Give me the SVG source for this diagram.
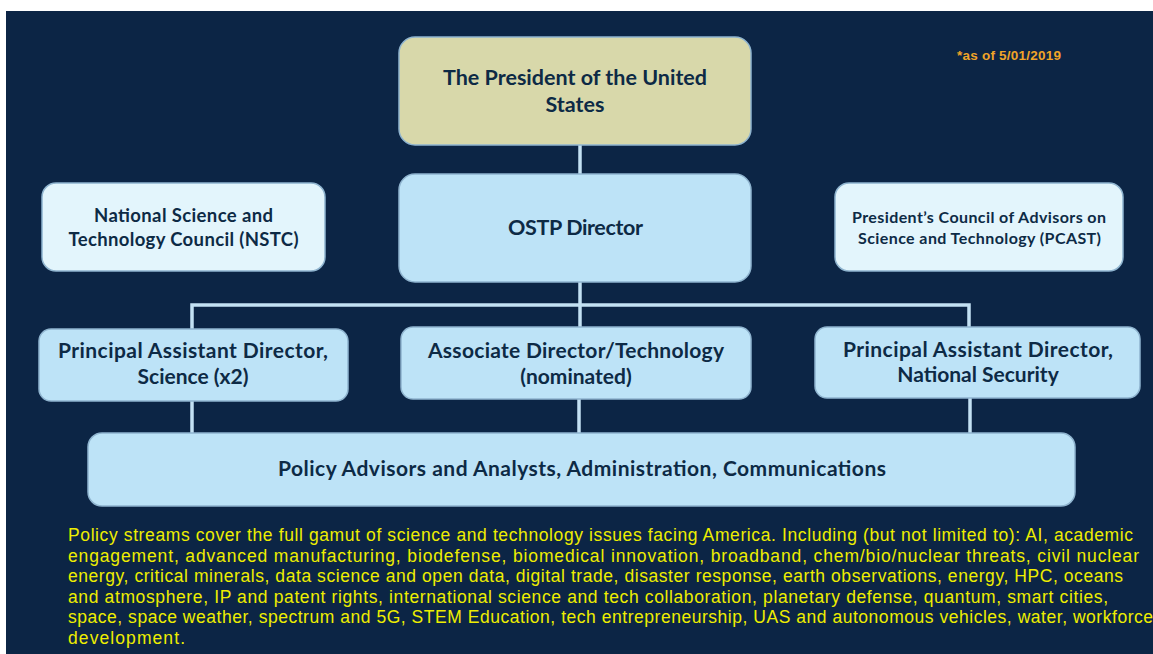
<svg xmlns="http://www.w3.org/2000/svg" width="1153" height="654" viewBox="0 0 1153 654">
<defs>
<style>
.box{stroke:#8fb4cf;stroke-width:1.5}
.pres{fill:#d8d8aa}
.dir{fill:#bde3f7}
.adv{fill:#e3f5fc}
.t{font-family:Lato,"Liberation Sans",sans-serif;font-weight:bold;fill:#0d2a45;text-anchor:middle}
.conn{stroke:#c3e1f3;stroke-width:3.5;fill:none}
.para{font-family:"Liberation Sans",Arial,sans-serif;font-size:17.5px;fill:#eeee00}
.note{font-family:"Liberation Sans Narrow","Liberation Sans",Arial,sans-serif;font-size:13.5px;font-weight:bold;fill:#f0a428}
</style>
</defs>
<rect x="0" y="0" width="1153" height="654" fill="#ffffff"/>
<rect x="6" y="11" width="1147" height="643" fill="#0c2545"/>

<g id="connectors">
<line class="conn" x1="580" y1="145" x2="580" y2="174"/>
<line class="conn" x1="580" y1="282" x2="580" y2="327"/>
<polyline class="conn" points="192,329 192,305 969,305 969,327"/>
<line class="conn" x1="192" y1="400" x2="192" y2="433"/>
<line class="conn" x1="579" y1="399" x2="579" y2="433"/>
<line class="conn" x1="970" y1="398" x2="970" y2="433"/>
</g>

<g id="president">
<rect class="box pres" x="399" y="37" width="352" height="108" rx="16"/>
<text class="t" x="575" y="85" font-size="21.5" textLength="264">The President of the United</text>
<text class="t" x="575" y="112" font-size="21.5">States</text>
</g>

<g id="ostp-director">
<rect class="box dir" x="399" y="174" width="352" height="108" rx="16"/>
<text class="t" x="575.5" y="235" font-size="21.5" textLength="135">OSTP Director</text>
</g>

<g id="nstc">
<rect class="box adv" x="42" y="183" width="283" height="88" rx="14"/>
<text class="t" x="183.5" y="222" font-size="18.5" textLength="179">National Science and</text>
<text class="t" x="183.5" y="246" font-size="18.5" textLength="230">Technology Council (NSTC)</text>
</g>

<g id="pcast">
<rect class="box adv" x="835" y="183" width="288" height="88" rx="14"/>
<text class="t" x="979" y="223" font-size="16" textLength="254">President’s Council of Advisors on</text>
<text class="t" x="979.5" y="244" font-size="16" textLength="243">Science and Technology (PCAST)</text>
</g>

<g id="pad-science">
<rect class="box dir" x="39" y="329" width="309" height="72" rx="12"/>
<text class="t" x="193" y="358" font-size="21" textLength="270">Principal Assistant Director,</text>
<text class="t" x="193" y="384" font-size="21">Science (x2)</text>
</g>

<g id="associate-director">
<rect class="box dir" x="401" y="327" width="350" height="72" rx="12"/>
<text class="t" x="576" y="358" font-size="21" textLength="296">Associate Director/Technology</text>
<text class="t" x="576" y="384" font-size="21">(nominated)</text>
</g>

<g id="pad-national-security">
<rect class="box dir" x="815" y="327" width="325" height="71" rx="12"/>
<text class="t" x="978" y="357" font-size="21" textLength="270">Principal Assistant Director,</text>
<text class="t" x="978" y="382" font-size="21">National Security</text>
</g>

<g id="policy-advisors">
<rect class="box dir" x="88" y="433" width="987" height="73" rx="14"/>
<text class="t" x="582" y="476" font-size="21" textLength="608">Policy Advisors and Analysts, Administration, Communications</text>
</g>

<text class="note" x="957" y="60" textLength="104">*as of 5/01/2019</text>

<g id="policy-streams">
<text class="para" x="68" y="541" textLength="1065">Policy streams cover the full gamut of science and technology issues facing America. Including (but not limited to): AI, academic</text>
<text class="para" x="68" y="561.5" textLength="1071">engagement, advanced manufacturing, biodefense, biomedical innovation, broadband, chem/bio/nuclear threats, civil nuclear</text>
<text class="para" x="68" y="582" textLength="1055">energy, critical minerals, data science and open data, digital trade, disaster response, earth observations, energy, HPC, oceans</text>
<text class="para" x="68" y="602.5" textLength="1040">and atmosphere, IP and patent rights, international science and tech collaboration, planetary defense, quantum, smart cities,</text>
<text class="para" x="68" y="623" textLength="1085">space, space weather, spectrum and 5G, STEM Education, tech entrepreneurship, UAS and autonomous vehicles, water, workforce</text>
<text class="para" x="68" y="643.5" textLength="117">development.</text>
</g>
</svg>
